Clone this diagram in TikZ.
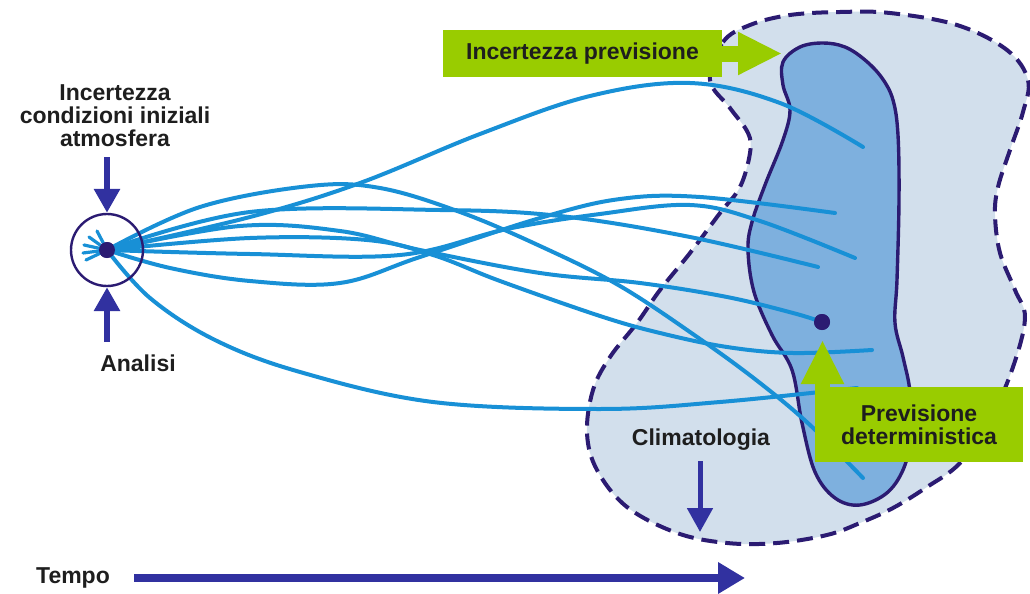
\documentclass[tikz,border=0pt]{standalone}
\usepackage{fontspec}
\setmainfont{Liberation Sans}
\usetikzlibrary{arrows.meta}
\definecolor{navy}{HTML}{2B1B72}
\definecolor{arrowblue}{HTML}{3131A0}
\definecolor{trajblue}{HTML}{1890D6}
\definecolor{climfill}{HTML}{D2DFEC}
\definecolor{fcfill}{HTML}{7EB0DE}
\definecolor{lime}{HTML}{99CC00}
\definecolor{txt}{HTML}{1E1E1E}

\begin{document}
\begin{tikzpicture}[
    x=0.5pt, y=-0.5pt,
    every node/.style={font=\fontsize{11.5}{11.5}\selectfont\bfseries, text=txt},
    lbl/.style={align=center, inner sep=0pt},
    greenbox/.style={fill=lime, inner sep=0pt},
    climblob/.style={fill=climfill, draw=navy, line width=2pt, dash pattern=on 8pt off 4pt},
    fcblob/.style={fill=fcfill, draw=navy, line width=1.7pt},
    traj/.style={trajblue, line width=2pt, line cap=round},
    navyarrow/.style={arrowblue, line width=3pt, -{Triangle[width=12.5pt, length=12pt]}},
    timearrow/.style={arrowblue, line width=4pt, -{Triangle[width=15pt, length=13.5pt]}},
    greenarrow/.style={lime, line width=8pt, -{Triangle[width=20pt, length=22pt]}}
]
  \useasboundingbox (0,0) rectangle (1030,594);

  % climatology and forecast regions
  \draw[climblob] plot[smooth cycle, tension=0.6] coordinates {
    (710,80) (723,42) (750,25) (790,15) (840,12) (890,13) (957,25) (1007,50)
    (1028,80) (1023,112) (1010,150) (998,187) (995,215) (1000,253) (1015,290)
    (1025,318) (1013,367) (990,420) (960,463) (927,487) (893,508) (860,523)
    (827,535) (777,543) (727,543) (677,533) (627,507) (597,470) (587,433)
    (593,390) (610,357) (637,323) (660,290) (690,253) (720,213) (740,187)
    (750,153) (748,133) (730,108)};
  \draw[fcblob] plot[smooth cycle, tension=0.6] coordinates {
    (783,62) (800,47) (823,43) (845,47) (865,60) (882,78) (893,100) (898,135)
    (899,200) (897,280) (895,323) (903,357) (910,392) (910,432) (905,465)
    (888,492) (860,505) (835,498) (815,472) (802,423) (792,370) (772,335)
    (754,292) (748,250) (752,222) (765,185) (783,140) (790,110) (783,85)};

  \node[circle, fill=navy, minimum size=8pt, inner sep=0pt] (origin) at (107,250) {};
  \node[circle, fill=navy, minimum size=8pt, inner sep=0pt] (detdot) at (822,322) {};

  % ensemble trajectories
  \draw[traj] plot[smooth, tension=0.6] coordinates {(origin) (250,217) (360,183) (480,134) (590,96) (690,83) (780,103) (863,147)};
  \draw[traj] plot[smooth, tension=0.6] coordinates {(origin) (200,207) (310,186) (380,188) (460,212) (540,246) (620,286) (700,339) (760,383) (810,425) (863,478)};
  \draw[traj] plot[smooth, tension=0.6] coordinates {(origin) (170,268) (250,281) (340,283) (420,257) (540,218) (620,199) (700,197) (835,213)};
  \draw[traj] plot[smooth, tension=0.6] coordinates {(origin) (250,254) (400,255) (507,229) (600,214) (690,205) (760,221) (855,258)};
  \draw[traj] plot[smooth, tension=0.6] coordinates {(origin) (250,212) (440,210) (560,216) (690,237) (818,267)};
  \draw[traj] plot[smooth, tension=0.6] coordinates {(origin) (240,226) (340,231) (420,250) (540,273) (640,283) (727,297) (793,313) (detdot)};
  \draw[traj] plot[smooth, tension=0.6] coordinates {(origin) (250,238) (367,240) (433,255) (500,281) (600,316) (660,333) (727,347) (793,353) (872,350)};
  \draw[traj] plot[smooth, tension=0.6] coordinates {(origin) (150,298) (215,340) (300,372) (433,402) (600,409) (720,402) (857,388)};
  \foreach \dx/\dy in {-10/-19, -18/-13, -23/-5, -24/3, -21/10}
    \draw[traj, line width=1.6pt] (origin.center) -- ++(\dx,\dy);

  \node[circle, draw=navy, line width=1.2pt, minimum size=36pt, inner sep=0pt] (icircle) at (107,250) {};
  \node[circle, fill=navy, minimum size=8pt, inner sep=0pt] at (origin) {};
  \node[circle, fill=navy, minimum size=8pt, inner sep=0pt] at (detdot) {};

  % green call-outs
  \node[greenbox, minimum width=139.5pt, minimum height=23.5pt] (fcunc) at (582.5,53.5) {Incertezza previsione};
  \coordinate (fctip) at (782,53.5);
  \draw[greenarrow] (fcunc.east) -- (fctip);

  \node[greenbox, minimum width=104pt, minimum height=37.5pt, align=center] (detfc) at (919,424.5) {Previsione\\deterministica};
  \coordinate (dettip) at (822.5,340);
  \draw[greenarrow, line width=7.5pt] (detfc.north west -| dettip) -- (dettip);

  % labels and arrows
  \node[lbl] (lblinit) at (115,116) {Incertezza\\condizioni iniziali\\atmosfera};
  \draw[navyarrow, shorten <=5pt] (lblinit.south -| icircle) -- (icircle.north);
  \node[lbl] (lblanal) at (138,363) {Analisi};
  \draw[navyarrow, shorten <=6pt] (lblanal.north -| icircle) -- (icircle.south);

  \node[lbl] (clim) at (701,440) {Climatologia};
  \coordinate (climend) at (700,532);
  \draw[navyarrow, line width=2.5pt, shorten <=5pt] (clim.south -| climend) -- (climend);

  \node[lbl] (tempo) at (73,578) {Tempo};
  \coordinate (tempoend) at (745,578);
  \draw[timearrow, shorten <=12pt] (tempo.east) -- (tempoend);
\end{tikzpicture}
\end{document}
